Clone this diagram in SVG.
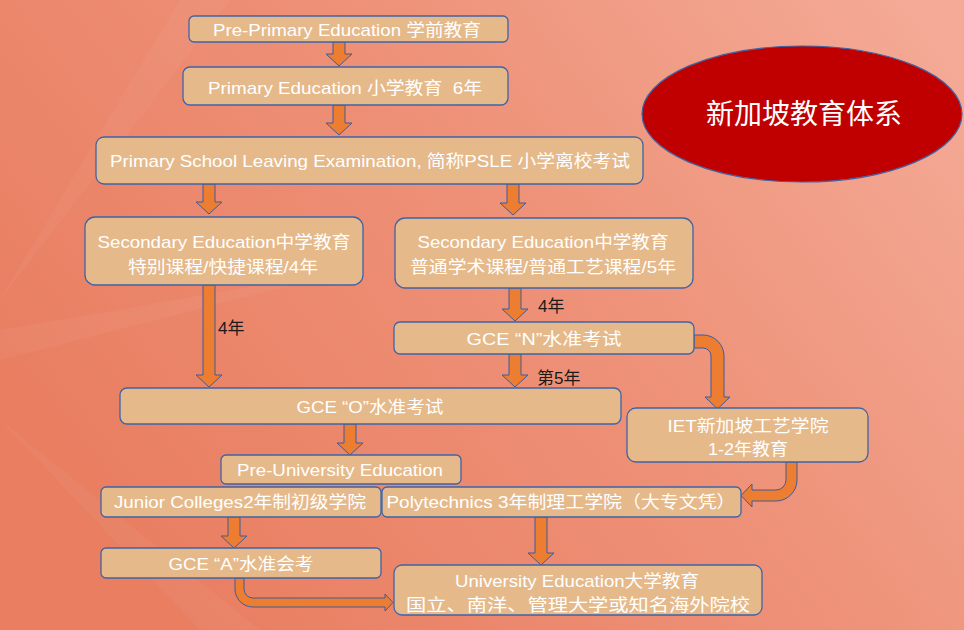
<svg xmlns="http://www.w3.org/2000/svg" width="964" height="630" viewBox="0 0 964 630">
<defs>
<linearGradient id="bg" x1="0" y1="0.6" x2="1" y2="0.1">
<stop offset="0" stop-color="#E97E61"/>
<stop offset="0.55" stop-color="#EE9279"/>
<stop offset="1" stop-color="#F4AA96"/>
</linearGradient>
<style>
.box{fill:#E6B98A;stroke:#3F63A6;stroke-width:1.3}
.t{fill:#ffffff;font-family:"Liberation Sans","Noto Sans CJK SC",sans-serif;font-size:17px;text-anchor:middle}
.lab{fill:#1a1a1a;font-family:"Liberation Sans","Noto Sans CJK SC",sans-serif;font-size:17px}
.arr{fill:#ED7D31;stroke:#3E5C9A;stroke-width:1;stroke-linejoin:miter}
</style>
</defs>
<rect width="964" height="630" fill="url(#bg)"/>
<g fill="#ffffff" opacity="0.04">
<polygon points="0,300 180,0 230,0"/>
<polygon points="0,420 260,630 200,630"/>
<polygon points="0,330 0,360 350,270"/>
</g>

<g id="connectors">
<polygon class="arr" points="333,42 345,42 345,54 352,54 339,66 326,54 333,54"/>
<polygon class="arr" points="333,105 345,105 345,123 352,123 339,135 326,123 333,123"/>
<polygon class="arr" points="203,184 215,184 215,202 222,202 209,214 196,202 203,202"/>
<polygon class="arr" points="507,184 519,184 519,203 526,203 513,215 500,203 507,203"/>
<polygon class="arr" points="203,285 215,285 215,375 222,375 209,387 196,375 203,375"/>
<polygon class="arr" points="509,288 521,288 521,309 528,309 515,321 502,309 509,309"/>
<polygon class="arr" points="509,354 521,354 521,375 528,375 515,387 502,375 509,375"/>
<polygon class="arr" points="344,424 356,424 356,443 363,443 350,455 337,443 344,443"/>
<polygon class="arr" points="228,517 240,517 240,536 247,536 234,548 221,536 228,536"/>
<polygon class="arr" points="535,517 547,517 547,553 554,553 541,565 528,553 535,553"/>
<path class="arr" d="M694,335 H703 A21,21 0 0 1 724,356 V397 H730 L717.5,409 L705,397 H711 V356 A8,8 0 0 0 703,348 H694 Z"/>
<path class="arr" d="M786,462 H797 V480 A21,21 0 0 1 776,501 H752 V507 L741,495.5 L752,484 V490 H776 A10,10 0 0 0 786,480 Z"/>
<path class="arr" d="M235,578 H244 V589 A9,9 0 0 0 253,598 H385 V594 L393,602.5 L385,611 V607 H253 A18,18 0 0 1 235,589 Z"/>
<text class="lab" x="218" y="334">4年</text>
<text class="lab" x="538" y="312">4年</text>
<text class="lab" x="537" y="384">第5年</text>
</g>

<g id="title">
<ellipse cx="802" cy="114" rx="160" ry="68" fill="#C00000" stroke="#3F63A6" stroke-width="1.2"/>
<text x="804" y="124" fill="#ffffff" font-family="'Liberation Sans','Noto Sans CJK SC',sans-serif" font-size="28" text-anchor="middle">新加坡教育体系</text>
</g>

<g id="pre-primary">
<rect class="box" x="189" y="16" width="319" height="26" rx="5"/>
<text class="t" x="347" y="36" textLength="268" lengthAdjust="spacingAndGlyphs">Pre-Primary Education 学前教育</text>
</g>
<g id="primary">
<rect class="box" x="183" y="67" width="325" height="38" rx="7"/>
<text class="t" x="345" y="94" textLength="274" lengthAdjust="spacingAndGlyphs">Primary Education 小学教育&#160; 6年</text>
</g>
<g id="psle">
<rect class="box" x="96" y="137" width="547" height="47" rx="8"/>
<text class="t" x="370" y="167" textLength="520" lengthAdjust="spacingAndGlyphs">Primary School Leaving Examination, 简称PSLE 小学离校考试</text>
</g>
<g id="secondary-special">
<rect class="box" x="85" y="217" width="278" height="68" rx="10"/>
<text class="t" x="224" y="248" textLength="253" lengthAdjust="spacingAndGlyphs">Secondary Education中学教育</text>
<text class="t" x="223" y="273" textLength="190" lengthAdjust="spacingAndGlyphs">特别课程/快捷课程/4年</text>
</g>
<g id="secondary-normal">
<rect class="box" x="395" y="218" width="298" height="70" rx="10"/>
<text class="t" x="543" y="248" textLength="251" lengthAdjust="spacingAndGlyphs">Secondary Education中学教育</text>
<text class="t" x="543" y="273" textLength="266" lengthAdjust="spacingAndGlyphs">普通学术课程/普通工艺课程/5年</text>
</g>
<g id="gce-n">
<rect class="box" x="394" y="322" width="300" height="32" rx="6"/>
<text class="t" x="544" y="345" textLength="155" lengthAdjust="spacingAndGlyphs">GCE “N”水准考试</text>
</g>
<g id="gce-o">
<rect class="box" x="120" y="388" width="501" height="36" rx="7"/>
<text class="t" x="370" y="413" textLength="147" lengthAdjust="spacingAndGlyphs">GCE “O”水准考试</text>
</g>
<g id="iet">
<rect class="box" x="627" y="408" width="241" height="54" rx="9"/>
<text class="t" x="748" y="432" textLength="161" lengthAdjust="spacingAndGlyphs">IET新加坡工艺学院</text>
<text class="t" x="748" y="455" textLength="80" lengthAdjust="spacingAndGlyphs">1-2年教育</text>
</g>
<g id="pre-university">
<rect class="box" x="221" y="455" width="240" height="29" rx="5"/>
<text class="t" x="340" y="476" textLength="206" lengthAdjust="spacingAndGlyphs">Pre-University Education</text>
</g>
<g id="junior-colleges">
<rect class="box" x="101" y="487" width="280" height="30" rx="5"/>
<text class="t" x="240" y="508" textLength="252" lengthAdjust="spacingAndGlyphs">Junior Colleges2年制初级学院</text>
</g>
<g id="polytechnics">
<rect class="box" x="382" y="487" width="359" height="30" rx="5"/>
<text class="t" x="561" y="508" textLength="349" lengthAdjust="spacingAndGlyphs">Polytechnics 3年制理工学院（大专文凭）</text>
</g>
<g id="gce-a">
<rect class="box" x="101" y="548" width="280" height="30" rx="5"/>
<text class="t" x="241" y="570" textLength="145" lengthAdjust="spacingAndGlyphs">GCE “A”水准会考</text>
</g>
<g id="university">
<rect class="box" x="394" y="565" width="368" height="50" rx="8"/>
<text class="t" x="577" y="587" textLength="244" lengthAdjust="spacingAndGlyphs">University Education大学教育</text>
<text class="t" x="578" y="611" textLength="344" lengthAdjust="spacingAndGlyphs">国立、南洋、管理大学或知名海外院校</text>
</g>
</svg>
